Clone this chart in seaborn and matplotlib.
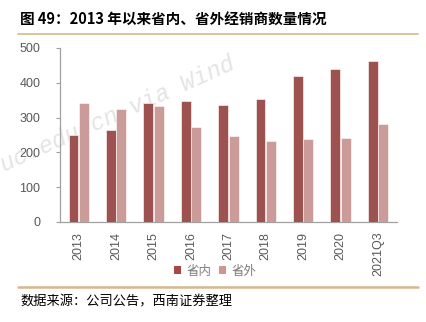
import matplotlib
matplotlib.use("Agg")
import matplotlib.pyplot as plt
import seaborn as sns
import pandas as pd
from matplotlib.patches import Patch

categories = ["2013", "2014", "2015", "2016", "2017", "2018", "2019", "2020", "2021Q3"]
inner = [251, 263, 342, 349, 335, 353, 419, 439, 464]
outer = [342, 325, 332, 272, 248, 234, 238, 241, 283]
series_names = ["省内", "省外"]
colors = ["#AA4643", "#D39391"]

df = pd.DataFrame({
    "year": categories * 2,
    "value": inner + outer,
    "series": [series_names[0]] * len(categories) + [series_names[1]] * len(categories),
})

sns.set_theme(style="white")
plt.rcParams['font.family'] = ['Liberation Sans', 'Noto Sans CJK SC', 'DejaVu Sans']

fig = plt.figure(figsize=(4.26, 3.22), dpi=100)
ax = fig.add_axes([60/426, 1-222/322, (396.7-60)/426, (222-48)/322])
ax.patch.set_alpha(0)

sns.barplot(data=df, x="year", y="value", hue="series", palette=colors,
            width=0.56, gap=0.06, ax=ax, legend=False, edgecolor="#FFFFFF", linewidth=0.4,
            zorder=3)

ax.set_ylim(0, 500)
ax.set_xlim(-0.5, len(categories) - 0.5)
ax.set_yticks([0, 100, 200, 300, 400, 500])
ax.set_xlabel("")
ax.set_ylabel("")
ax.set_xticks(range(len(categories)))
ax.set_xticklabels(categories, rotation=90, fontsize=9, color="#595959")
ax.tick_params(axis="x", length=0, pad=7)
ax.set_xticks([i - 0.5 for i in range(len(categories) + 1)], minor=True)
ax.tick_params(axis="x", which="minor", length=4, width=0.8, color="#A0A0A0", direction="out")
ax.tick_params(axis="y", labelsize=9, labelcolor="#595959", length=3, width=0.8,
               color="#A0A0A0", direction="out", left=True, pad=11)
for s in ["top", "right"]:
    ax.spines[s].set_visible(False)
for s in ["left", "bottom"]:
    ax.spines[s].set_color("#A0A0A0")
    ax.spines[s].set_linewidth(0.9)

# watermark (behind the bars)
ax.text(4/426, 1-172/322, "uc.edu.cn via Wind", fontsize=17, color="#E4E4E4",
        family="Liberation Mono", style="italic", rotation=24, rotation_mode="anchor",
        ha="left", va="baseline", zorder=0, transform=fig.transFigure, clip_on=False)

# legend
handles = [Patch(facecolor=c, edgecolor="none") for c in colors]
leg = fig.legend(handles, series_names, loc="center", bbox_to_anchor=(215/426, 1-271/322),
                 ncol=2, frameon=False, handlelength=0.6, handleheight=0.6,
                 handletextpad=0.4, columnspacing=0.6,
                 prop={"family": ["Noto Sans CJK SC"], "size": 9})
for t in leg.get_texts():
    t.set_color("#7F7F7F")

# title and decorations
fig.text(20/426, 1-20/322, "图 49：2013 年以来省内、省外经销商数量情况", fontsize=10.5,
         fontweight="bold", family=["Noto Sans CJK SC", "DejaVu Sans"], ha="left", va="center",
         color="#000000")
fig.add_artist(plt.Line2D([18/426, 418/426], [1-33.5/322, 1-33.5/322], color="#D8B88A", lw=1.2))
fig.add_artist(plt.Line2D([18/426, 418/426], [1-287/322, 1-287/322], color="#D8B88A", lw=1.8))
fig.text(20/426, 1-302/322, "数据来源：公司公告，西南证券整理", fontsize=9.5,
         family=["Noto Sans CJK SC", "DejaVu Sans"], ha="left", va="center", color="#000000",
         style="italic")

fig.savefig("out.png", dpi=100)
